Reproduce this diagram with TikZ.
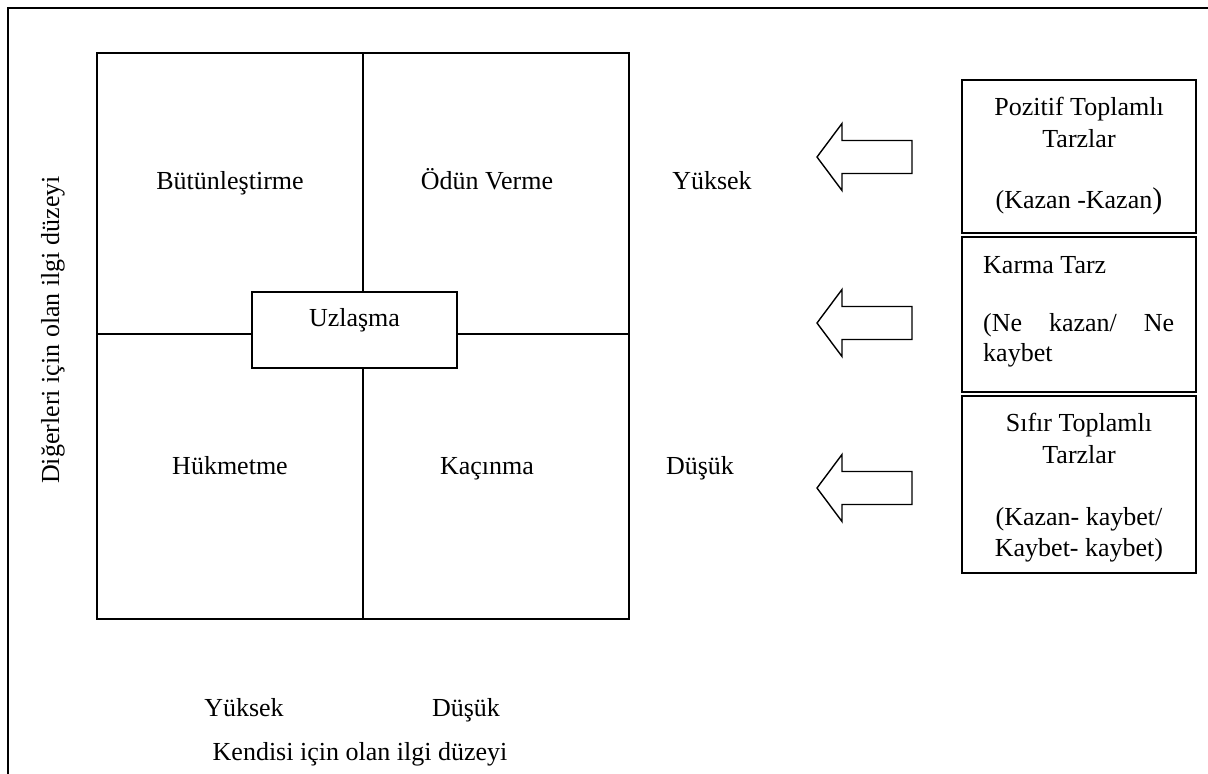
\documentclass[tikz,border=0pt]{standalone}
\usepackage{fontspec}
\setmainfont{Liberation Serif}
\begin{document}
\begin{tikzpicture}[x=1pt,y=-1pt,
  txt/.style={font=\fontsize{26}{31}\selectfont, anchor=base, inner sep=0pt},
  frame/.style={line width=2pt},
  grid/.style={line width=2.2pt},
  sidebox/.style={draw, line width=2pt, rectangle, inner sep=0pt, minimum width=234pt},
  blockarrow/.style={draw, line width=1.4pt, line join=miter, fill=white}]
\useasboundingbox (0,0) rectangle (1208,774);

% outer frame (top and left edges)
\draw[frame] (8,774) -- (8,8) -- (1208,8);

% four-quadrant grid
\coordinate (sqNW) at (97,53);
\coordinate (sqSE) at (629,619);
\draw[grid] (sqNW) rectangle (sqSE);
\draw[grid] (363,53) -- (363,619);
\draw[grid] (97,334) -- (629,334);

% compromise box in the centre
\node[draw, grid, fill=white, minimum width=205pt, minimum height=76pt, inner sep=0pt] (uz) at (354.5,330) {};
\node[txt] (uzt) at (354.5,326) {Uzlaşma};

% quadrant labels
\node[txt] (q1) at (230,189) {Bütünleştirme};
\node[txt] (q2) at (487,189) {Ödün Verme};
\node[txt] (q3) at (230,474) {Hükmetme};
\node[txt] (q4) at (487,474) {Kaçınma};

% row levels
\node[txt] (ry) at (712,189) {Yüksek};
\node[txt] (rd) at (700,474) {Düşük};

% column levels and axis titles
\node[txt] (cy) at (244,716) {Yüksek};
\node[txt] (cd) at (466,716) {Düşük};
\node[txt] (xt) at (360,760) {Kendisi için olan ilgi düzeyi};
\node[txt, anchor=center, rotate=90] (yt) at (53,330) {Diğerleri için olan ilgi düzeyi};

% outcome boxes on the right
\node[sidebox, minimum height=153pt] (b1) at (1079,156.5) {};
\node[sidebox, minimum height=155pt] (b2) at (1079,314.5) {};
\node[sidebox, minimum height=177pt] (b3) at (1079,484.5) {};

\node[txt] (b1a) at (1079,115) {Pozitif Toplamlı};
\node[txt] (b1b) at (1079,147) {Tarzlar};
\node[txt] (b1c) at (1079,208) {(Kazan -Kazan{\fontsize{30}{30}\selectfont )}};

\node[txt, anchor=base west] (b2a) at (983,273) {Karma Tarz};
\node[txt, anchor=base west] (b2b) at (983,331) {\makebox[191pt][s]{(Ne kazan/ Ne}};
\node[txt, anchor=base west] (b2c) at (983,361) {kaybet};

\node[txt] (b3a) at (1079,431) {Sıfır Toplamlı};
\node[txt] (b3b) at (1079,463) {Tarzlar};
\node[txt] (b3c) at (1079,525) {(Kazan- kaybet/};
\node[txt] (b3d) at (1079,556) {Kaybet- kaybet)};

% hollow block arrows pointing left
\foreach \yy/\nm in {157/a1, 323/a2, 488/a3} {
  \draw[blockarrow] (817,\yy) -- (842,\yy-33.5) -- (842,\yy-16.5) -- (912,\yy-16.5)
    -- (912,\yy+16.5) -- (842,\yy+16.5) -- (842,\yy+33.5) -- cycle;
}
\end{tikzpicture}
\end{document}
